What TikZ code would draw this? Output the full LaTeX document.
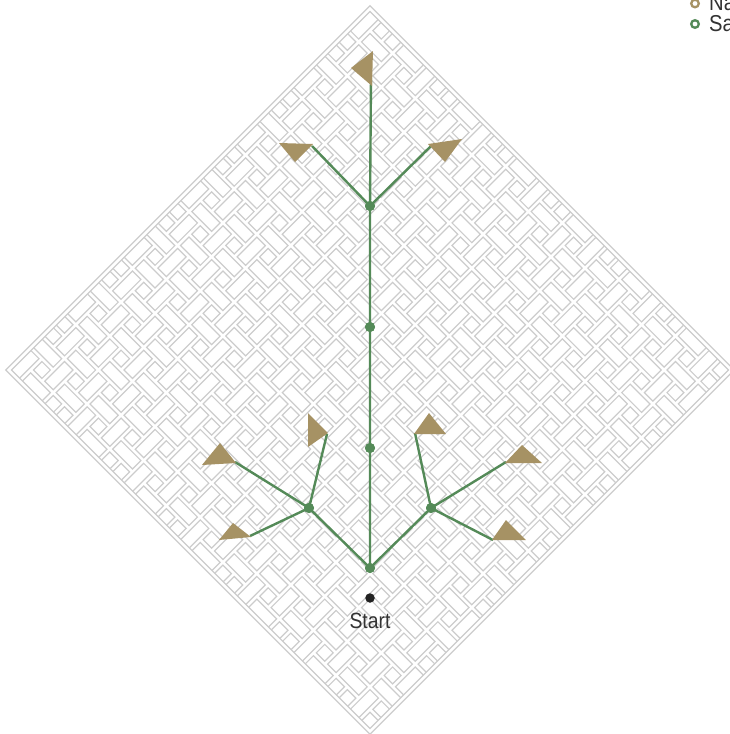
\documentclass[tikz,border=0pt]{standalone}
\usepackage{fontspec}
\setmainfont{Liberation Sans}
\newfontfamily\condfont{Liberation Sans}[FakeStretch=0.88]
\definecolor{tgreen}{RGB}{84,138,88}
\definecolor{ttan}{RGB}{166,146,100}
\definecolor{weave}{RGB}{204,204,204}
\definecolor{startc}{RGB}{34,34,34}
\definecolor{txtc}{RGB}{51,51,51}
\tikzset{
  gdot/.style={circle,fill=tgreen,inner sep=0pt,minimum size=10pt},
  sdot/.style={circle,fill=startc,inner sep=0pt,minimum size=9.5pt},
  edge/.style={draw=tgreen,line width=2.4pt},
  tri/.style={fill=ttan},
  wv/.style={draw=weave,line width=1.2pt},
  lbl/.style={font=\condfont\fontsize{22}{24}\selectfont,text=txtc,inner sep=0pt},
  leglbl/.style={font=\condfont\fontsize{23}{24}\selectfont,text=txtc,inner sep=0pt},
  legc/.style={circle,draw=#1,line width=2.3pt,inner sep=0pt,minimum size=7.6pt}
}
\begin{document}
\begin{tikzpicture}[x=1pt,y=-1pt]
\useasboundingbox (0,0) rectangle (730,734);
\clip (0,0) rectangle (730,734);
% woven diamond (pinwheel weave)
\begin{scope}[shift={(370,370)},rotate=45]
\def\aa{258.1}
\def\W{16}
\def\gp{2}
\begin{scope}
\clip (-\aa+4.6,-\aa+4.6) rectangle (\aa-4.6,\aa-4.6);
\foreach \m in {-11,...,11}{
  \foreach \n in {-11,...,11}{
    \pgfmathsetmacro{\ax}{(\m+2*\n)*\W}
    \pgfmathsetmacro{\ay}{(2*\m-\n)*\W}
    \pgfmathtruncatemacro{\inside}{and(abs(\ax)<300,abs(\ay)<300)}
    \ifnum\inside=1
      \draw[wv] (\ax+\gp,\ay+\gp) rectangle (\ax+\W-\gp,\ay+\W-\gp);
      \draw[wv] (\ax+\gp,\ay+\W+\gp) rectangle (\ax+2*\W-\gp,\ay+2*\W-\gp);
      \draw[wv] (\ax+\W+\gp,\ay-\W+\gp) rectangle (\ax+2*\W-\gp,\ay+\W-\gp);
    \fi
  }
}
\end{scope}
% border band
\draw[wv] (-\aa+0.6,-\aa+0.6) rectangle (\aa-0.6,\aa-0.6);
\draw[wv] (-\aa+4.6,-\aa+4.6) rectangle (\aa-4.6,\aa-4.6);
\end{scope}
% tree nodes
\node[gdot] (root) at (370,568) {};
\node[gdot] (t1) at (370,448) {};
\node[gdot] (t2) at (370,327) {};
\node[gdot] (t3) at (370,206) {};
\node[gdot] (L) at (309,508) {};
\node[gdot] (R) at (431,508) {};
\coordinate (top) at (371,78);
\coordinate (t3l) at (312,146);
\coordinate (t3r) at (431,146);
\coordinate (La) at (235,462);
\coordinate (Lb) at (327,434);
\coordinate (Lc) at (250,536);
\coordinate (Ra) at (415,433);
\coordinate (Rb) at (506,462);
\coordinate (Rc) at (493,540);
% edges
\draw[edge] (root.center) -- (t1.center) -- (t2.center) -- (t3.center) -- (top);
\draw[edge] (t3.center) -- (t3l);
\draw[edge] (t3.center) -- (t3r);
\draw[edge] (root.center) -- (L.center);
\draw[edge] (root.center) -- (R.center);
\draw[edge] (L.center) -- (La);
\draw[edge] (L.center) -- (Lb);
\draw[edge] (L.center) -- (Lc);
\draw[edge] (R.center) -- (Ra);
\draw[edge] (R.center) -- (Rb);
\draw[edge] (R.center) -- (Rc);
% dots on top
\foreach \n in {root,t1,t2,t3,L,R}{\fill[tgreen] (\n) circle (5);}
% triangles
\fill[tri] (351,68) -- (373,51) -- (372,86) -- cycle;
\fill[tri] (279,143) -- (313,144) -- (295,162) -- cycle;
\fill[tri] (428,144) -- (462,139) -- (445,162) -- cycle;
\fill[tri] (202,465) -- (220,443) -- (236,463) -- cycle;
\fill[tri] (308,413) -- (308,447) -- (328,433) -- cycle;
\fill[tri] (219,540) -- (233,523) -- (251,537) -- cycle;
\fill[tri] (414,434) -- (429,413) -- (446,434) -- cycle;
\fill[tri] (505,463) -- (522,445) -- (542,463) -- cycle;
\fill[tri] (492,540) -- (506,520) -- (526,540) -- cycle;
% start
\node[sdot] (start) at (370,598) {};
\node[lbl,anchor=base] (startlbl) at (370,628) {Start};
% legend
\node[legc=ttan] (lg1) at (695,3.5) {};
\node[legc=tgreen] (lg2) at (695,24) {};
\node[leglbl,anchor=base west] (lt1) at (709,10) {Na};
\node[leglbl,anchor=base west] (lt2) at (709,31.5) {Sa};
\end{tikzpicture}
\end{document}
